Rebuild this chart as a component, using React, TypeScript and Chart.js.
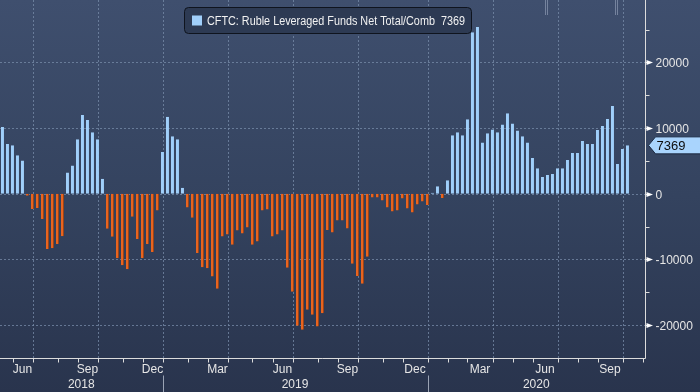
import React, { useEffect, useRef } from "react";
import { Chart, registerables } from "chart.js";

Chart.register(...registerables);

// ---- data ----
const START_DATE_UTC = [2018, 4, 22]; // first weekly observation: 22 May 2018
const TOTAL_SLOTS = 129; // weekly slots shown on the axis (data + empty future weeks)
const VALUES = [
  10150, 7590, 7385, 5850, 5080, -300, -2300, -2150, -3850, -8400,
  -8300, -7650, -6460, 3230, 4300, 8300, 12000, 11230, 9380, 8300,
  2300, -5330, -6560, -9800, -10870, -11490, -3490, -6870, -9800, -7640,
  -8870, -2560, 6360, 11740, 8770, 8300, 920, -2100, -3640, -9030,
  -11180, -11330, -12600, -14450, -6500, -6200, -7750, -5600, -6050, -5150,
  -7750, -7280, -2550, -2380, -6500, -6200, -5600, -11250, -14900, -20100,
  -20700, -17650, -18400, -20200, -18200, -5500, -5900, -4070, -4070, -5300,
  -10640, -12500, -13700, -9570, -560, -560, -1020, -2080, -2700, -2540,
  -710, -2230, -2850, -1630, -1160, -1700, 150, 1150, -650, 2050,
  8900, 9350, 8900, 11350, 24600, 25400, 7800, 9200, 9800, 9350,
  10550, 12250, 10700, 9650, 8750, 7800, 5430, 3900, 2540, 2840,
  3000, 3900, 3900, 5130, 6190, 6190, 8020, 7560, 7560, 9700,
  10300, 11370, 13350, 4520, 6800, 7369,
];
const LAST_VALUE = 7369;
const SERIES_NAME = "CFTC: Ruble Leveraged Funds Net Total/Comb";
const Y_MIN = -25000;
const Y_MAX = 29500;
const Y_LABEL_TICKS = [-20000, -10000, 0, 10000, 20000];
const Y_MINOR_TICKS = [-20000, -15000, -10000, -5000, 0, 5000, 10000, 15000, 20000, 25000];
const MONTH_NAMES = ["Jan", "Feb", "Mar", "Apr", "May", "Jun", "Jul", "Aug", "Sep", "Oct", "Nov", "Dec"];
const LABELLED_MONTHS = [2, 5, 8, 11]; // Mar, Jun, Sep, Dec
const GRID_MONTHS = [0, 3, 6, 9]; // quarter starts
const EVENT_MARKER_DATES = ["2020-06-23", "2020-09-29"];

// ---- styles ----
const FONT = '"Liberation Sans", Arial, sans-serif';
const BLUE = "#a0cffa";
const ORANGE = "#e8641f";
const ORANGE_EDGE = "#9a4318";
const GRID = "rgba(120,140,170,0.75)";
const AXIS = "#dcdcdc";
const TEXT = "#e6e6e6";

const DATES: Date[] = [];
for (let i = 0; i < TOTAL_SLOTS; i++) {
  DATES.push(new Date(Date.UTC(START_DATE_UTC[0], START_DATE_UTC[1], START_DATE_UTC[2] + i * 7)));
}
const LABELS = DATES.map((d) => d.toISOString().slice(0, 10));

const decorPlugin = {
  id: "decor",
  beforeDatasetsDraw(chart: any) {
    const { ctx, chartArea, scales } = chart;
    const x = scales.x;
    const y = scales.y;
    ctx.save();
    ctx.strokeStyle = GRID;
    ctx.lineWidth = 1;
    ctx.setLineDash([2, 2]);
    for (const v of Y_LABEL_TICKS) {
      const py = Math.round(y.getPixelForValue(v)) + 0.5;
      ctx.beginPath();
      ctx.moveTo(chartArea.left, py);
      ctx.lineTo(chartArea.right, py);
      ctx.stroke();
    }
    for (let i = 1; i < TOTAL_SLOTS; i++) {
      const m = DATES[i].getUTCMonth();
      if (m !== DATES[i - 1].getUTCMonth() && GRID_MONTHS.includes(m)) {
        const px = Math.round(x.getPixelForValue(i)) + 0.5;
        ctx.beginPath();
        ctx.moveTo(px, chartArea.top);
        ctx.lineTo(px, chartArea.bottom);
        ctx.stroke();
      }
    }
    ctx.restore();
  },
  afterDatasetsDraw(chart: any) {
    const { ctx, chartArea, scales } = chart;
    const x = scales.x;
    const y = scales.y;
    const H = chart.height;
    const W = chart.width;
    ctx.save();
    ctx.setLineDash([]);
    // axis lines
    ctx.strokeStyle = AXIS;
    ctx.lineWidth = 1;
    const ax = Math.round(chartArea.right) + 0.5;
    const ay = Math.round(chartArea.bottom) + 0.5;
    ctx.beginPath();
    ctx.moveTo(chartArea.left, ay);
    ctx.lineTo(ax, ay);
    ctx.moveTo(ax, chartArea.top);
    ctx.lineTo(ax, ay);
    ctx.stroke();

    // y ticks
    for (const v of Y_MINOR_TICKS) {
      const py = Math.round(y.getPixelForValue(v)) + 0.5;
      ctx.beginPath();
      ctx.moveTo(ax, py);
      ctx.lineTo(ax + 4, py);
      ctx.stroke();
    }
    ctx.font = `12px ${FONT}`;
    ctx.textBaseline = "middle";
    ctx.textAlign = "left";
    for (const v of Y_LABEL_TICKS) {
      const py = Math.round(y.getPixelForValue(v)) + 0.5;
      ctx.fillStyle = "#ffffff";
      ctx.beginPath();
      ctx.moveTo(ax + 1, py - 2.5);
      ctx.lineTo(ax + 7.5, py);
      ctx.lineTo(ax + 1, py + 2.5);
      ctx.closePath();
      ctx.fill();
      ctx.fillStyle = TEXT;
      ctx.fillText(String(v), ax + 10, py + 1);
    }

    // x ticks + month labels
    const ticks: number[] = [];
    for (let i = 1; i < TOTAL_SLOTS; i++) {
      if (DATES[i].getUTCMonth() !== DATES[i - 1].getUTCMonth()) ticks.push(i);
    }
    ctx.strokeStyle = AXIS;
    for (const i of ticks) {
      const px = Math.round(x.getPixelForValue(i)) + 0.5;
      ctx.beginPath();
      ctx.moveTo(px, ay);
      ctx.lineTo(px, ay + 4);
      ctx.stroke();
    }
    ctx.fillStyle = TEXT;
    ctx.textAlign = "center";
    for (let k = 0; k < ticks.length - 1; k++) {
      const m = DATES[ticks[k]].getUTCMonth();
      if (!LABELLED_MONTHS.includes(m)) continue;
      const cx = (x.getPixelForValue(ticks[k]) + x.getPixelForValue(ticks[k + 1])) / 2;
      ctx.fillText(MONTH_NAMES[m], cx, ay + 11);
    }
    // years
    const yearBounds: number[] = [chartArea.left];
    const years: number[] = [DATES[0].getUTCFullYear()];
    for (let i = 1; i < TOTAL_SLOTS; i++) {
      if (DATES[i].getUTCFullYear() !== DATES[i - 1].getUTCFullYear()) {
        yearBounds.push(x.getPixelForValue(i));
        years.push(DATES[i].getUTCFullYear());
      }
    }
    yearBounds.push(chartArea.right);
    ctx.strokeStyle = "#9aa3b4";
    for (let k = 1; k < yearBounds.length - 1; k++) {
      const px = Math.round(yearBounds[k]) + 0.5;
      ctx.beginPath();
      ctx.moveTo(px, ay + 17);
      ctx.lineTo(px, H);
      ctx.stroke();
    }
    for (let k = 0; k < years.length; k++) {
      ctx.fillText(String(years[k]), (yearBounds[k] + yearBounds[k + 1]) / 2, ay + 26);
    }

    // event markers
    ctx.strokeStyle = "rgba(200,210,230,0.4)";
    for (const ds of EVENT_MARKER_DATES) {
      const idx = LABELS.indexOf(ds);
      if (idx < 0) continue;
      const px = Math.round(x.getPixelForValue(idx));
      ctx.beginPath();
      ctx.moveTo(px - 2.5, 0);
      ctx.lineTo(px - 2.5, 15);
      ctx.moveTo(px - 0.5, 0);
      ctx.lineTo(px - 0.5, 15);
      ctx.stroke();
    }

    // last value callout
    const ly = y.getPixelForValue(LAST_VALUE);
    ctx.fillStyle = "#a9d4fd";
    ctx.strokeStyle = "#1c2a42";
    ctx.beginPath();
    ctx.moveTo(ax + 3, ly);
    ctx.lineTo(ax + 10, ly - 8.5);
    ctx.lineTo(W + 2, ly - 8.5);
    ctx.lineTo(W + 2, ly + 8.5);
    ctx.lineTo(ax + 10, ly + 8.5);
    ctx.closePath();
    ctx.fill();
    ctx.stroke();
    ctx.fillStyle = "#0d0d0d";
    ctx.textAlign = "left";
    ctx.font = `13px ${FONT}`;
    ctx.fillText(String(LAST_VALUE), ax + 11, ly + 1);

    // legend box
    ctx.font = `12.5px ${FONT}`;
    const legendText = `${SERIES_NAME}  ${LAST_VALUE}`;
    const tw = ctx.measureText(legendText).width;
    const targetW = 258;
    const k = targetW / tw;
    const bx = 184.5, by = 7.5, bh = 26;
    const bw = 22 + targetW + 7;
    ctx.fillStyle = "#2d3a53";
    ctx.strokeStyle = "#0f141e";
    ctx.beginPath();
    (ctx as any).roundRect(bx, by, bw, bh, 4);
    ctx.fill();
    ctx.stroke();
    ctx.fillStyle = BLUE;
    ctx.fillRect(192, 15.5, 10, 10);
    ctx.fillStyle = "#f2f2f2";
    ctx.textAlign = "left";
    ctx.translate(207, by + bh / 2 + 1);
    ctx.scale(k, 1);
    ctx.fillText(legendText, 0, 0);
    ctx.restore();
  },
};

export default function App() {
  const ref = useRef<HTMLCanvasElement | null>(null);
  useEffect(() => {
    document.body.style.margin = "0";
    const canvas = ref.current!;
    const chart = new Chart(canvas, {
      type: "bar",
      data: {
        labels: LABELS,
        datasets: [
          {
            label: SERIES_NAME,
            data: VALUES,
            backgroundColor: VALUES.map((v) => (v >= 0 ? BLUE : ORANGE)),
            borderColor: VALUES.map((v) => (v >= 0 ? BLUE : ORANGE_EDGE)),
            borderWidth: { top: 0, left: 0, bottom: 0, right: 1 } as any,
            borderSkipped: false as any,
            barPercentage: 0.62,
            categoryPercentage: 1,
          },
        ],
      },
      options: {
        animation: false,
        responsive: true,
        maintainAspectRatio: false,
        layout: { padding: 0 },
        plugins: { legend: { display: false }, tooltip: { enabled: false } },
        scales: {
          x: {
            type: "category",
            offset: true,
            grid: { display: false },
            ticks: { display: false },
            border: { display: false },
            afterFit: (s: any) => {
              s.height = 34;
            },
          },
          y: {
            position: "right",
            min: Y_MIN,
            max: Y_MAX,
            grid: { display: false },
            ticks: { display: false },
            border: { display: false },
            afterFit: (s: any) => {
              s.width = 55;
            },
          },
        },
      },
      plugins: [decorPlugin],
    });
    return () => chart.destroy();
  }, []);
  return (
    <div
      style={{
        position: "fixed",
        left: 0,
        top: 0,
        width: 700,
        height: 392,
        background: "linear-gradient(180deg, #3f4f6e 0%, #34435f 50%, #29344d 100%)",
      }}
    >
      <canvas ref={ref} />
    </div>
  );
}
